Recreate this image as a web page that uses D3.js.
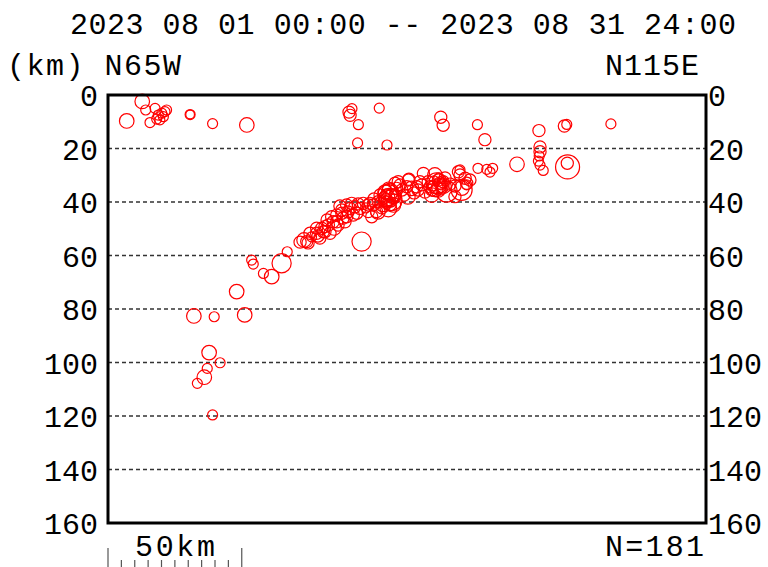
<!DOCTYPE html>
<html>
<head>
<meta charset="utf-8">
<script src="https://cdn.jsdelivr.net/npm/d3@7"></script>
<style>
  body { margin: 0; background: #fff; }
  text { font-family: "Liberation Mono", "DejaVu Sans Mono", monospace; fill: #000; }
</style>
</head>
<body>
<script>
var width = 768, height = 567;

// profile data: distance along N65W->N115E (km), depth (km), magnitude
var dist = [7.0,12.8,14.1,17.6,15.7,18.2,18.8,20.1,21.3,21.9,19.4,20.7,30.7,30.7,39.1,51.9,
  90.1,91.2,90.5,93.6,101.4,93.3,104.3,124.4,125.3,138.1,140.9,161.1,170.6,171.5,188.0,
  161.5,161.5,161.2,160.9,161.5,162.7,171.8,171.7,152.9,138.3,141.6,142.8,143.8,
  131.0,131.6,133.5,134.1,132.2,129.7,131.6,134.1,
  122.9,124.1,122.2,125.3,123.5,120.4,119.7,126.6,121.0,117.9,122.2,124.1,121.5,124.9,
  117.3,115.4,116.6,113.5,111.7,112.3,109.9,114.4,118.5,
  104.8,105.4,104.2,106.0,102.9,106.7,101.7,107.9,108.5,107.3,104.8,99.2,100.4,98.6,
  103.6,106.2,104.3,105.4,103.2,107.3,104.9,102.4,106.9,103.9,105.8,
  74.3,73.3,74.8,76.1,78.0,79.9,81.1,83.0,82.4,84.2,83.6,85.5,87.4,88.6,89.2,87.4,90.5,92.3,93.0,
  91.1,94.2,97.3,97.3,101.0,95.4,81.1,78.0,75.5,80.5,85.5,89.2,91.7,97.9,94.8,86.0,79.2,
  112.5,112.1,115.9,109.2,110.7,126.0,127.9,123.4,124.5,121.9,125.6,121.1,123.7,
  67.0,64.9,61.2,58.1,53.7,54.3,48.1,32.1,39.7,51.1,37.8,41.9,37.1,36.0,33.4,39.1,
  71.8,81.9,84.5,87.9,89.7,93.5,96.4,99.4,100.9,78.5,86.7,135.3,132.3,129.7,105.0,103.9];
var depth = [9.7,2.4,5.6,5.0,10.3,9.0,7.5,6.8,6.2,5.6,9.3,8.1,7.3,7.3,10.7,11.2,
  6.4,5.1,7.6,11.1,4.9,17.9,18.7,8.3,11.3,11.1,16.7,13.3,11.6,11.0,10.8,
  19.4,21.2,22.8,24.7,26.2,28.2,26.9,25.5,25.9,27.4,27.8,28.8,27.4,
  28.7,29.9,31.1,33.0,35.5,38.0,28.0,33.6,
  33.0,34.3,34.9,32.4,31.8,34.3,32.4,36.1,37.4,29.3,29.9,32.9,34.0,34.8,
  33.6,34.3,32.4,34.9,34.3,31.8,35.5,36.6,36.3,
  37.4,36.1,38.6,39.3,40.5,41.1,37.4,34.9,32.4,33.0,42.4,41.1,43.6,45.5,
  36.3,37.8,40.0,41.1,38.5,37.4,34.8,42.2,38.9,37.0,40.0,
  54.8,54.2,55.3,53.0,51.7,49.8,51.1,51.7,48.6,47.4,45.5,44.9,44.2,47.4,45.5,43.0,42.4,41.8,44.2,
  40.5,42.4,41.1,43.6,39.9,40.5,49.2,49.8,51.7,51.1,47.4,41.1,44.9,40.5,54.8,48.6,53.5,
  31.5,38.1,35.5,33.6,37.4,31.0,33.3,35.5,33.6,32.1,34.0,35.5,31.0,
  58.6,62.9,67.9,66.7,61.7,63.2,73.5,82.6,82.9,82.2,96.3,100.1,102.2,105.5,107.8,119.6,
  55.0,46.7,49.7,46.0,43.7,40.7,42.2,38.9,43.7,52.7,41.5,31.8,34.8,34.0,38.5,39.6];
var mag = [1.9,1.9,1.0,1.0,1.0,1.0,1.0,1.0,1.0,1.0,1.0,1.0,0.5,1.0,1.0,1.9,
  1.5,1.0,1.5,1.0,1.0,1.0,1.0,1.5,1.5,1.0,1.5,1.5,1.5,1.0,1.0,
  1.5,1.5,1.0,1.0,1.0,1.0,3.0,1.5,1.9,1.0,1.0,1.0,1.0,
  1.5,1.5,1.5,1.5,2.7,1.5,1.0,1.0,
  2.7,2.2,2.2,1.5,1.5,1.5,1.5,2.7,1.9,1.5,1.9,1.5,1.0,1.0,
  1.5,1.5,1.5,1.9,1.5,1.5,1.5,1.5,1.5,
  2.7,2.2,2.2,2.7,2.2,1.9,1.5,1.5,1.5,1.5,2.2,1.5,1.5,1.5,
  1.9,1.9,1.5,1.5,1.5,1.5,1.5,1.5,1.0,1.0,1.0,
  1.5,1.9,1.5,1.0,1.5,1.5,1.5,1.5,1.5,1.5,1.5,1.5,1.5,1.5,1.5,1.5,1.5,1.5,1.5,
  1.5,1.5,1.5,1.5,1.5,1.5,1.5,1.5,1.5,1.5,1.5,1.5,1.5,1.5,2.5,1.5,1.5,
  1.5,1.9,1.5,1.5,1.5,1.5,1.5,1.9,1.0,1.0,1.9,1.5,1.0,
  1.0,2.5,1.9,1.0,1.0,1.0,1.9,1.9,1.0,1.9,1.9,1.0,1.0,1.9,1.0,1.0,
  1.5,1.5,1.9,1.5,1.5,1.5,1.0,1.5,1.9,1.5,1.5,1.5,1.9,1.5,2.5,1.9];
var depthTicks = [0, 20, 40, 60, 80, 100, 120, 140, 160];
var title = "2023 08 01 00:00 -- 2023 08 31 24:00";
var leftDir = "N65W", rightDir = "N115E";

var svg = d3.select("body").append("svg")
  .attr("width", width)
  .attr("height", height);

var plotL = 108, plotR = 706, plotT = 95, plotB = 523;
// same km scale on both axes
var y = d3.scaleLinear().domain([0, 160]).range([plotT, plotB]);
var kmPx = (plotB - plotT) / 160;
var x = d3.scaleLinear().domain([0, (plotR - plotL) / kmPx]).range([plotL, plotR]);
var r = d3.scalePow().exponent(2).domain([0, 3]).range([4.125, 12]);

// dashed grid lines
svg.append("g").selectAll("line")
  .data(depthTicks.slice(1, -1))
  .enter().append("line")
  .attr("x1", plotL).attr("x2", plotR)
  .attr("y1", function(d) { return y(d); })
  .attr("y2", function(d) { return y(d); })
  .attr("stroke", "#333")
  .attr("stroke-width", 1.3)
  .attr("stroke-dasharray", "4,3");

// quakes
var quakes = dist.map(function(d, i) { return {d: d, z: depth[i], m: mag[i]}; });
svg.append("g").selectAll("circle")
  .data(quakes)
  .enter().append("circle")
  .attr("cx", function(d) { return x(d.d); })
  .attr("cy", function(d) { return y(d.z); })
  .attr("r", function(d) { return r(d.m); })
  .attr("fill", "none")
  .attr("stroke", "#ff0000")
  .attr("stroke-width", 1.2);

// frame
svg.append("rect")
  .attr("x", plotL).attr("y", plotT)
  .attr("width", plotR - plotL).attr("height", plotB - plotT)
  .attr("fill", "none")
  .attr("stroke", "#000")
  .attr("stroke-width", 3);

// depth labels both sides
svg.append("g").selectAll("text")
  .data(depthTicks)
  .enter().append("text")
  .attr("x", plotL - 10)
  .attr("y", function(d) { return y(d) + 11; })
  .attr("text-anchor", "end")
  .style("font-size", "30px")
  .text(function(d) { return d; });
svg.append("g").selectAll("text")
  .data(depthTicks)
  .enter().append("text")
  .attr("x", plotR + 2)
  .attr("y", function(d) { return y(d) + 11; })
  .style("font-size", "30px")
  .text(function(d) { return d; });

svg.append("text")
  .attr("x", 70).attr("y", 34)
  .attr("textLength", 666).attr("lengthAdjust", "spacing")
  .style("font-size", "30px")
  .text(title);
svg.append("text")
  .attr("x", 7).attr("y", 75)
  .attr("textLength", 174).attr("lengthAdjust", "spacing")
  .style("font-size", "30px")
  .text("(km) " + leftDir);
svg.append("text")
  .attr("x", 605).attr("y", 75)
  .attr("textLength", 94).attr("lengthAdjust", "spacing")
  .style("font-size", "30px")
  .text(rightDir);
svg.append("text")
  .attr("x", 605).attr("y", 556)
  .attr("textLength", 99).attr("lengthAdjust", "spacing")
  .style("font-size", "30px")
  .text("N=" + quakes.length);

// 50 km scale bar
var bar = svg.append("g").attr("stroke", "#555").attr("stroke-width", 1.2);
bar.selectAll("line")
  .data(d3.range(0, 51, 5))
  .enter().append("line")
  .attr("x1", function(d) { return x(d); })
  .attr("x2", function(d) { return x(d); })
  .attr("y1", function(d) { return (d % 50 === 0) ? 548 : 560; })
  .attr("y2", 568);
svg.append("text")
  .attr("x", 135).attr("y", 556)
  .attr("textLength", 80).attr("lengthAdjust", "spacing")
  .style("font-size", "30px")
  .text("50km");
</script>
</body>
</html>
